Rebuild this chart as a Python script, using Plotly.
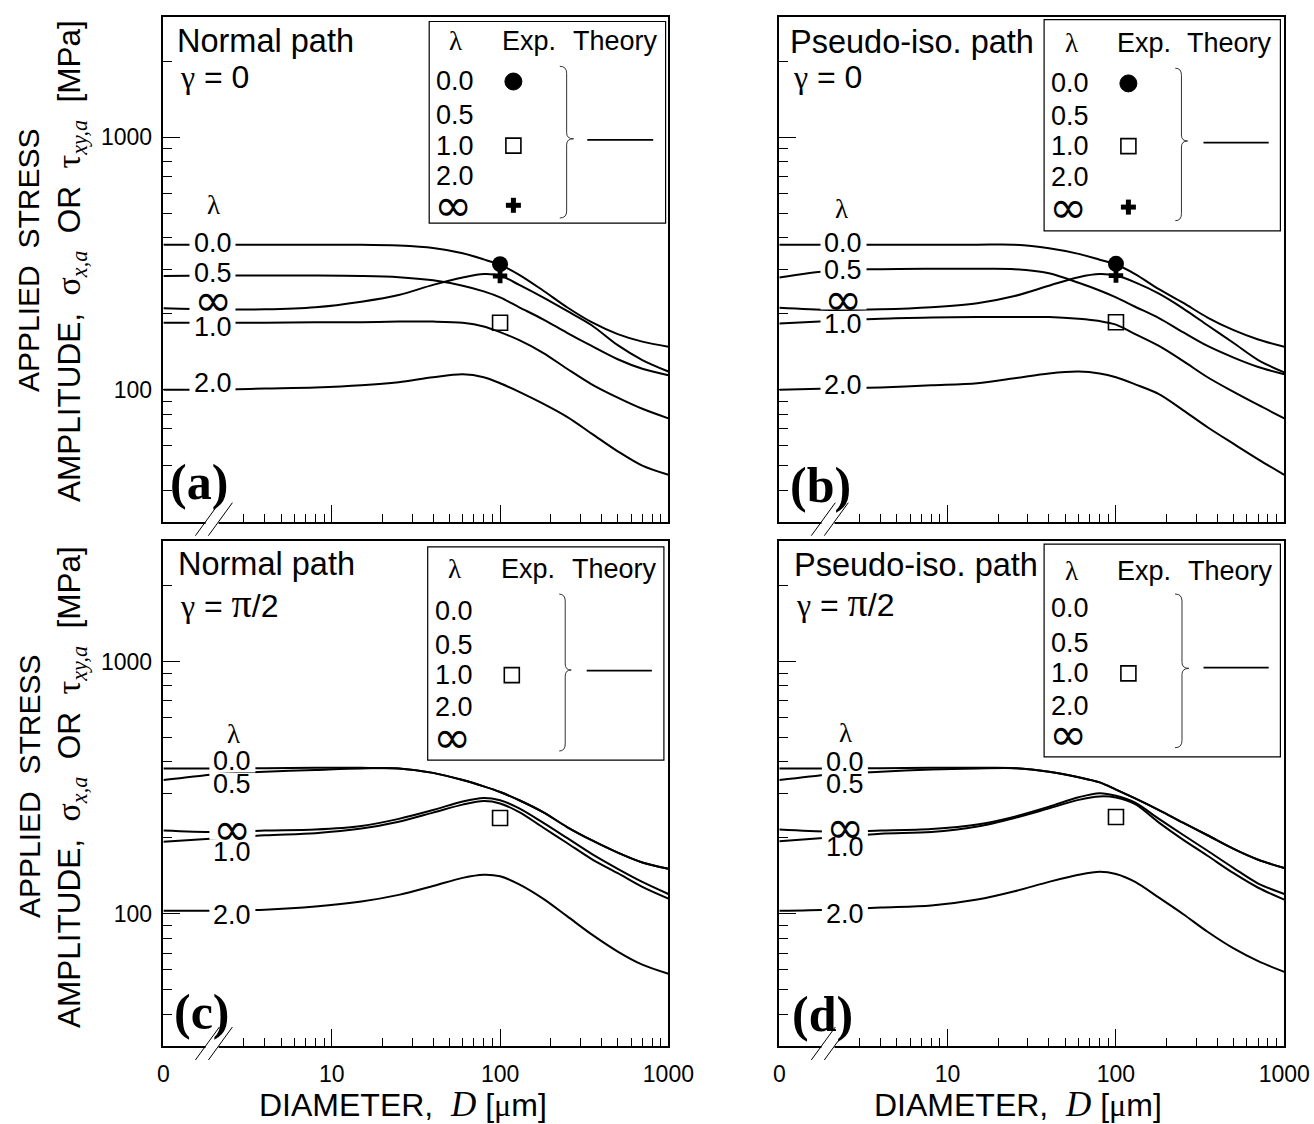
import plotly.graph_objects as go

W, H = 1314, 1124
SANS = "Liberation Sans, Arial, sans-serif"
SERIF = "Liberation Serif, Times New Roman, serif"
INF_FONT = "DejaVu Sans, sans-serif"

# ---------------- data ----------------
DIAM = [1, 2, 4, 8, 15, 25, 40, 60, 80, 100, 130, 180, 250, 350, 500, 700, 1000]
LAMBDAS = ["0.0", "0.5", "1.0", "2.0", "\u221e"]

# (a) Normal path, gamma = 0
a_lam00 = [375, 375, 375, 375, 375, 372, 364, 347, 328, 312, 285, 247, 212, 185, 166, 155, 148]
a_lam05 = [282, 283, 283, 283, 282, 279, 271, 258, 245, 232, 212, 190, 168, 149, 132, 121, 114]
a_lam10 = [184, 184, 184, 185, 185, 186, 186, 184, 178, 169, 157, 140, 121, 105, 93, 84, 77]
a_lam20 = [100, 100, 101, 102, 104, 107, 112, 115, 112, 106, 98, 88, 78, 67, 57, 50, 46]
a_laminf = [210, 208, 208, 212, 223, 237, 260, 278, 287, 283, 260, 232, 205, 180, 150, 131, 118]
# (b) Pseudo-iso. path, gamma = 0
b_lam00 = [375, 375, 375, 375, 375, 375, 363, 345, 327, 313, 287, 250, 221, 193, 172, 158, 148]
b_lam05 = [278, 296, 300, 301, 301, 300, 289, 265, 247, 232, 213, 192, 169, 149, 134, 123, 115]
b_lam10 = [183, 187, 191, 193, 194, 194, 194, 191, 187, 181, 166, 149, 130, 112, 98, 87, 77]
b_lam20 = [100, 101, 102, 104, 106, 111, 116, 118, 116, 112, 105, 96, 83, 71, 61, 53, 46]
b_laminf = [211, 207, 208, 212, 220, 235, 258, 279, 287, 283, 266, 240, 210, 180, 153, 131, 117]
# (c) Normal path, gamma = pi/2
c_lam00 = [377, 377, 378, 379, 379, 377, 362, 339, 320, 304, 282, 253, 221, 196, 175, 160, 151]
c_lam05 = [339, 357, 366, 372, 377, 377, 362, 339, 320, 304, 282, 253, 221, 196, 175, 160, 151]
c_lam10 = [193, 199, 205, 209, 218, 232, 252, 271, 280, 274, 253, 220, 191, 165, 145, 128, 115]
c_lam20 = [103, 103, 104, 107, 112, 119, 129, 139, 143, 141, 131, 115, 98, 83, 71, 63, 58]
c_laminf = [214, 211, 214, 216, 223, 238, 258, 279, 288, 282, 262, 230, 200, 173, 151, 134, 120]
# (d) Pseudo-iso. path, gamma = pi/2
d_lam00 = [377, 377, 378, 379, 379, 378, 366, 348, 332, 311, 287, 258, 230, 205, 181, 164, 152]
d_lam05 = [339, 357, 366, 373, 377, 378, 366, 348, 332, 311, 287, 258, 230, 205, 181, 164, 152]
d_lam10 = [194, 201, 208, 211, 222, 240, 262, 283, 292, 289, 272, 230, 197, 170, 145, 127, 114]
d_lam20 = [103, 104, 106, 108, 114, 123, 134, 143, 147, 144, 134, 116, 100, 85, 73, 65, 59]
d_laminf = [216, 212, 214, 217, 226, 243, 266, 290, 301, 294, 276, 238, 206, 178, 152, 132, 120]

# experiments (D = 100 um)
EXP_D = [100]
a_exp_circle, a_exp_square, a_exp_plus = [314], [184], [282]
b_exp_circle, b_exp_square, b_exp_plus = [315], [185], [283]
c_exp_square = [240]
d_exp_square = [242]

X_TICKVALS = [1, 10, 100, 1000]
X_TICKTEXT = ["0", "10", "100", "1000"]
X_MINOR = [3, 4, 5, 6, 7, 8, 9, 20, 30, 40, 50, 60, 70, 80, 90, 200, 300, 400, 500, 600, 700, 800, 900]
Y_TICKVALS = [100, 1000]
Y_TICKTEXT = ["100", "1000"]
Y_MINOR = [40, 50, 60, 70, 80, 90, 200, 300, 400, 500, 600, 700, 800, 900, 2000]
X_RANGE_LOG = [0, 3]
Y_RANGE_LOG = [1.4771, 3.4771]


# ---------------- helpers ----------------
def fx(px):
    return px / W


def fy(py):
    return 1 - py / H


shapes = []
annotations = []


def add_text(x, y, text, size=27, family=SANS, xanchor="center", yanchor="middle", angle=0):
    annotations.append(dict(x=fx(x), y=fy(y), xref="paper", yref="paper", text=text, showarrow=False,
                            font=dict(family=family, size=size, color="black"),
                            xanchor=xanchor, yanchor=yanchor, textangle=angle))


def add_line(x0, y0, x1, y1, width=1.2, color="black"):
    shapes.append(dict(type="line", xref="paper", yref="paper", x0=fx(x0), y0=fy(y0),
                       x1=fx(x1), y1=fy(y1), line=dict(color=color, width=width), layer="above"))


def add_rect(x0, y0, x1, y1, fill=None, color="black", width=1.2):
    s = dict(type="rect", xref="paper", yref="paper", x0=fx(x0), y0=fy(y1), x1=fx(x1), y1=fy(y0),
             layer="above")
    if fill:
        s["fillcolor"] = fill
    s["line"] = dict(color=color, width=width) if width > 0 else dict(width=0)
    shapes.append(s)


def add_circle(cx, cy, r):
    shapes.append(dict(type="circle", xref="paper", yref="paper", x0=fx(cx - r), x1=fx(cx + r),
                       y0=fy(cy + r), y1=fy(cy - r), fillcolor="black", line=dict(color="black", width=1),
                       layer="above"))


def add_path(points, width=1.0, color="#333333"):
    d = ""
    for cmd, pts in points:
        d += cmd + " ".join("%.5f,%.5f" % (fx(px), fy(py)) for px, py in pts) + " "
    shapes.append(dict(type="path", xref="paper", yref="paper", path=d.strip(),
                       line=dict(color=color, width=width), layer="above"))


def add_brace(x0, xt, y0, y1, yt):
    xm = x0 + (xt - x0) * 0.5
    add_path([
        ("M", [(x0, y0)]),
        ("Q", [(xm, y0), (xm, y0 + 7)]),
        ("L", [(xm, yt - 6)]),
        ("Q", [(xm, yt), (xt, yt)]),
        ("Q", [(xm, yt), (xm, yt + 6)]),
        ("L", [(xm, y1 - 7)]),
        ("Q", [(xm, y1), (x0, y1)]),
    ])


PANELS = [
    dict(curves=[a_lam00, a_lam05, a_lam10, a_lam20, a_laminf],
         exp=[("circle", a_exp_circle), ("square-open", a_exp_square), ("cross", a_exp_plus)],
         L=163.4, T=16.7, title="Normal path", gamma="0", letter="(a)",
         show_x=False, show_y=True,
         title_pos=(175.2, 41), gamma_pos=(177.5, 77), letter_pos=(199, 482),
         box=(429.2, 21.5, 665.6, 223.1), hdr_y=41, hdr_x=(455, 528.9, 615.4),
         rows_x=455, rows_y=[81.5, 115.2, 145.6, 175.9, 205.3], mark_x=513.4,
         marks={0: "circle", 2: "square", 4: "plus"},
         brace=(559.8, 573.5, 66.3, 218, 138.8), theory=(587.3, 653.2, 139.8),
         clab_x=212.5, clam=(213.3, 205),
         clabs=[("0.0", 242.7), ("0.5", 272.7), ("\u221e", 300), ("1.0", 326.7), ("2.0", 383.3)]),
    dict(curves=[b_lam00, b_lam05, b_lam10, b_lam20, b_laminf],
         exp=[("circle", b_exp_circle), ("square-open", b_exp_square), ("cross", b_exp_plus)],
         L=779.3, T=16.7, title="Pseudo-iso. path", gamma="0", letter="(b)",
         show_x=False, show_y=False,
         title_pos=(788, 42), gamma_pos=(790.5, 77), letter_pos=(820, 485),
         box=(1044.1, 19.7, 1280.4, 230.8), hdr_y=42.8, hdr_x=(1071.3, 1143.5, 1229.9),
         rows_x=1069.9, rows_y=[83.4, 115.6, 146.1, 176.6, 207.1], mark_x=1128.4,
         marks={0: "circle", 2: "square", 4: "plus"},
         brace=(1175.3, 1187.6, 68.2, 220.7, 141), theory=(1203.5, 1268.7, 142.7),
         clab_x=843.5, clam=(841, 208.8),
         clabs=[("0.0", 242.7), ("0.5", 269.8), ("\u221e", 298.6), ("1.0", 324), ("2.0", 385)]),
    dict(curves=[c_lam00, c_lam05, c_lam10, c_lam20, c_laminf],
         exp=[("square-open", c_exp_square)],
         L=163.4, T=541, title="Normal path", gamma="pi", letter="(c)",
         show_x=True, show_y=True,
         title_pos=(176, 563.7), gamma_pos=(178, 603), letter_pos=(202, 1012),
         box=(427.7, 546.9, 663.9, 760.2), hdr_y=568.8, hdr_x=(454.5, 527.6, 614.1),
         rows_x=453.5, rows_y=[611, 644.7, 675.1, 707.2, 736.5], mark_x=511.8,
         marks={2: "square"},
         brace=(559.2, 571.2, 594.1, 751, 670), theory=(586.7, 651.9, 670.7),
         clab_x=232.4, clam=(233.1, 734.2),
         clabs=[("0.0", 761.2), ("0.5", 783.8), ("\u221e", 828.7), ("1.0", 852.3), ("2.0", 914.7)]),
    dict(curves=[d_lam00, d_lam05, d_lam10, d_lam20, d_laminf],
         exp=[("square-open", d_exp_square)],
         L=779.3, T=541, title="Pseudo-iso. path", gamma="pi", letter="(d)",
         show_x=True, show_y=False,
         title_pos=(792, 565.4), gamma_pos=(794, 602), letter_pos=(822, 1014),
         box=(1044.1, 544.2, 1280.4, 756.8), hdr_y=570.5, hdr_x=(1071.3, 1143.5, 1230),
         rows_x=1069.9, rows_y=[608.3, 643, 673.4, 705.5, 734.2], mark_x=1128.4,
         marks={2: "square"},
         brace=(1175, 1189, 594, 747.7, 668.4), theory=(1203.5, 1268.7, 667.7),
         clab_x=844.9, clam=(845.6, 732.5),
         clabs=[("0.0", 762.2), ("0.5", 783.8), ("\u221e", 827), ("1.0", 847.2), ("2.0", 914)]),
]

PW, PH = 505, 505
fig = go.Figure()
layout_axes = {}

for i, p in enumerate(PANELS):
    n = "" if i == 0 else str(i + 1)
    xref, yref = "x" + n, "y" + n
    L, T = p["L"], p["T"]
    for vals in p["curves"]:
        fig.add_trace(go.Scatter(x=DIAM, y=vals, mode="lines", xaxis=xref, yaxis=yref,
                                 line=dict(color="black", width=2, shape="spline", smoothing=0.9),
                                 hoverinfo="skip", showlegend=False))
    for sym, vals in p["exp"]:
        if sym == "circle":
            mk = dict(symbol="circle", size=16, color="black")
        elif sym == "cross":
            mk = dict(symbol="cross", size=12, color="black")
        else:
            mk = dict(symbol="square-open", size=15, color="black", line=dict(width=1.6, color="black"))
        fig.add_trace(go.Scatter(x=EXP_D, y=vals, mode="markers", xaxis=xref, yaxis=yref,
                                 marker=mk, hoverinfo="skip", showlegend=False))

    xd = [fx(L), fx(L + PW)]
    yd = [fy(T + PH), fy(T)]
    layout_axes["xaxis" + n] = dict(
        domain=xd, anchor=yref, type="log", range=X_RANGE_LOG, showgrid=False, zeroline=False,
        showline=True, linewidth=1.5, linecolor="black", mirror=True, automargin=False,
        ticks="inside", ticklen=17, tickwidth=1.3, tickcolor="black",
        tickmode="array", tickvals=X_TICKVALS, ticktext=X_TICKTEXT,
        showticklabels=p["show_x"], ticklabelstandoff=7,
        tickfont=dict(family=SANS, size=23, color="black"),
        minor=dict(tickmode="array", tickvals=X_MINOR, ticks="inside", ticklen=8,
                   tickwidth=1.2, tickcolor="black", showgrid=False),
        fixedrange=True)
    layout_axes["yaxis" + n] = dict(
        domain=yd, anchor=xref, type="log", range=Y_RANGE_LOG, showgrid=False, zeroline=False,
        showline=True, linewidth=1.5, linecolor="black", mirror=True, automargin=False,
        ticks="inside", ticklen=17, tickwidth=1.3, tickcolor="black",
        tickmode="array", tickvals=Y_TICKVALS, ticktext=Y_TICKTEXT,
        showticklabels=p["show_y"], ticklabelstandoff=5,
        tickfont=dict(family=SANS, size=23, color="black"),
        minor=dict(tickmode="array", tickvals=Y_MINOR, ticks="inside", ticklen=9,
                   tickwidth=1.2, tickcolor="black", showgrid=False),
        fixedrange=True)

    # axis break marks on the x axis
    B = T + PH
    add_rect(L + 42.2, B - 2.5, L + 55.2, B + 2.5, fill="white", width=0)
    add_line(L + 32, B + 14, L + 56, B - 19, width=1.0)
    add_line(L + 45, B + 14, L + 69, B - 19, width=1.0)

    # panel headings
    tx, ty = p["title_pos"]
    add_text(tx, ty, p["title"], size=32.5, xanchor="left")
    gx, gy = p["gamma_pos"]
    if p["gamma"] == "0":
        gtxt = '<span style="font-family:Liberation Serif">\u03b3</span> = 0'
    else:
        gtxt = ('<span style="font-family:Liberation Serif">\u03b3</span> = '
                '<span style="font-family:Liberation Serif;font-size:40px">\u03c0</span>/2')
    add_text(gx, gy, gtxt, size=32, xanchor="left")
    lx, ly = p["letter_pos"]
    add_text(lx, ly, "<b>" + p["letter"] + "</b>", size=50, family=SERIF)

    # legend box
    bx0, by0, bx1, by1 = p["box"]
    add_rect(bx0, by0, bx1, by1, width=1.2)
    hx = p["hdr_x"]
    add_text(hx[0], p["hdr_y"], "\u03bb", size=27, family=SERIF)
    add_text(hx[1], p["hdr_y"], "Exp.", size=27)
    add_text(hx[2], p["hdr_y"], "Theory", size=27)
    for k, (lab, ry) in enumerate(zip(LAMBDAS, p["rows_y"])):
        if lab == "\u221e":
            add_text(p["rows_x"] - 2, ry, lab, size=46, family=INF_FONT)
        else:
            add_text(p["rows_x"], ry, lab, size=27)
        m = p["marks"].get(k)
        mx = p["mark_x"]
        if m == "circle":
            add_circle(mx, ry, 8.5)
        elif m == "square":
            add_rect(mx - 7.5, ry - 7.5, mx + 7.5, ry + 7.5, width=1.6)
        elif m == "plus":
            add_rect(mx - 7.5, ry - 2.5, mx + 7.5, ry + 2.5, fill="black", width=0)
            add_rect(mx - 2.5, ry - 7.5, mx + 2.5, ry + 7.5, fill="black", width=0)
    add_brace(*p["brace"])
    t0, t1, tyy = p["theory"]
    add_line(t0, tyy, t1, tyy, width=1.8)

    # curve labels on the left
    cx = p["clab_x"]
    lamx, lamy = p["clam"]
    add_text(lamx, lamy, "\u03bb", size=27, family=SERIF)
    for lab, cy in p["clabs"]:
        add_rect(cx - 23, cy - 11, cx + 23, cy + 11, fill="white", width=0)
    for lab, cy in p["clabs"]:
        if lab == "\u221e":
            add_text(cx, cy, lab, size=46, family=INF_FONT)
        else:
            add_text(cx, cy, lab, size=27)

# axis titles
YT2 = ('AMPLITUDE,\u00a0 <span style="font-family:Liberation Serif;font-size:34px">\u03c3</span>'
       '<sub><span style="font-family:Liberation Serif"><i>x,a</i></span></sub>'
       '\u00a0 OR\u00a0 <span style="font-family:Liberation Serif;font-size:34px">\u03c4</span>'
       '<sub><span style="font-family:Liberation Serif"><i>xy,a</i></span></sub>\u00a0 [MPa]')
for cyc in (261, 787):
    add_text(29, cyc, "APPLIED\u00a0 STRESS", size=30, angle=-90)
    add_text(71, cyc, YT2, size=31.5, angle=-90)
XT = ('DIAMETER,\u00a0 <span style="font-family:Liberation Serif;font-size:35px"><i>D</i></span>'
      '\u00a0[<span style="font-family:Liberation Serif">\u03bc</span>m]')
for cxc in (403, 1018):
    add_text(cxc, 1104, XT, size=32)

fig.update_layout(width=W, height=H, autosize=False,
                  margin=dict(l=0, r=0, t=0, b=0, pad=0, autoexpand=False),
                  paper_bgcolor="white", plot_bgcolor="rgba(0,0,0,0)",
                  showlegend=False, shapes=shapes, annotations=annotations,
                  font=dict(family=SANS, color="black"),
                  **layout_axes)

POST = ("document.body.style.margin='0';document.body.style.padding='0';"
        "document.body.style.overflow='hidden';"
        "var gd=document.getElementById('{plot_id}');"
        "gd.style.width='1314px';gd.style.height='1124px';"
        "Plotly.relayout(gd,{width:1314,height:1124});")
fig.write_html("out.html", config={"displayModeBar": False, "responsive": False},
               post_script=POST)
